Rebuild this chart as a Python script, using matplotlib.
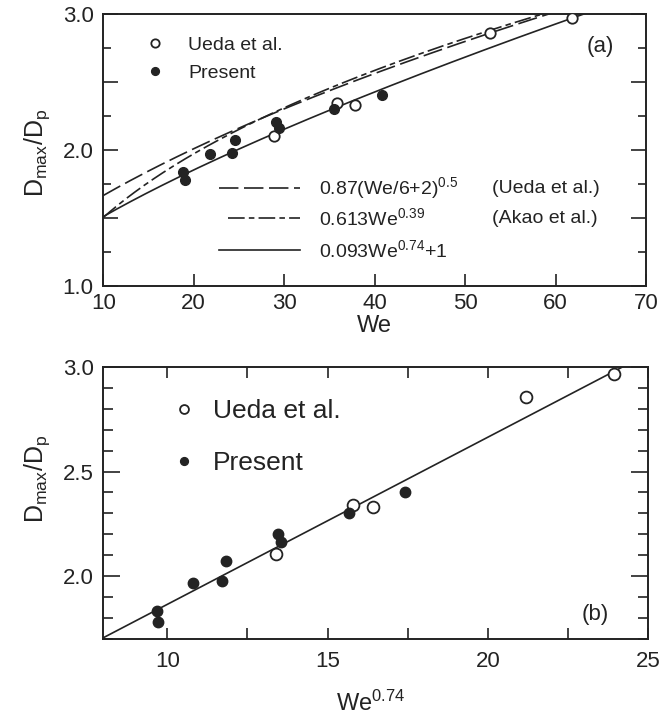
import numpy as np
import matplotlib
matplotlib.use("Agg")
import matplotlib.pyplot as plt
from matplotlib.lines import Line2D
from matplotlib.ticker import FixedLocator, MultipleLocator, FuncFormatter

INK = "#232323"

plt.rcParams["font.family"] = ["Liberation Sans", "DejaVu Sans"]
plt.rcParams["mathtext.fontset"] = "custom"
plt.rcParams["mathtext.rm"] = "Liberation Sans"
plt.rcParams["mathtext.it"] = "Liberation Sans"
plt.rcParams["lines.scale_dashes"] = False
plt.rcParams["text.color"] = INK
plt.rcParams["axes.labelcolor"] = INK
plt.rcParams["xtick.color"] = INK
plt.rcParams["ytick.color"] = INK
plt.rcParams["axes.edgecolor"] = INK

# ---- measured spreading ratios ----
# Ueda et al.
ueda_we = [61.8, 52.8, 37.8, 35.8, 28.9]
ueda_we074 = [23.95, 21.18, 16.42, 15.79, 13.39]
ueda_ratio = [2.965, 2.855, 2.330, 2.342, 2.105]
# present experiments
pres_we = [40.8, 35.5, 29.1, 29.4, 24.6, 24.2, 21.8, 18.8, 19.0]
pres_we074 = [17.41, 15.66, 13.45, 13.55, 11.84, 11.71, 10.79, 9.67, 9.72]
pres_ratio = [2.400, 2.300, 2.203, 2.163, 2.072, 1.976, 1.968, 1.835, 1.782]

# ---- correlations ----
ueda_a, ueda_div, ueda_add, ueda_p = 0.87, 6.0, 2.0, 0.5
akao_a, akao_p = 0.613, 0.39
fit_a, fit_p, fit_c = 0.093, 0.74, 1.0
we_grid = np.linspace(10, 70, 400)

# straight line on the We^0.74 axis
line_b_x = [8.0, 24.2]
line_b_y = [1.705, 3.0]

fig = plt.figure(figsize=(6.62, 7.21), dpi=100)
ax1 = fig.add_axes([0.156, 0.603, 0.820, 0.378])
ax2 = fig.add_axes([0.156, 0.114, 0.823, 0.377])

LW = 1.2
TICK_FS = 16

# ================= (a) =================
ax1.plot(we_grid, ueda_a * (we_grid / ueda_div + ueda_add) ** ueda_p,
         color=INK, lw=LW, dashes=(14, 4))
ax1.plot(we_grid, akao_a * we_grid ** akao_p,
         color=INK, lw=LW, dashes=(12, 3, 4, 3))
ax1.plot(we_grid, fit_a * we_grid ** fit_p + fit_c, color=INK, lw=LW)

h_open, = ax1.plot(ueda_we, ueda_ratio, "o", ms=7.5, mfc="white",
                   mec=INK, mew=1.3, ls="none", zorder=4)
h_fill, = ax1.plot(pres_we, pres_ratio, "o", ms=7, mfc=INK,
                   mec=INK, mew=1.0, ls="none", zorder=4)

ax1.set_xlim(10, 70)
ax1.set_ylim(1.0, 3.0)
ax1.xaxis.set_major_locator(MultipleLocator(10))
ax1.yaxis.set_major_locator(FixedLocator([1.0, 1.5, 2.0, 2.5, 3.0]))
ax1.yaxis.set_minor_locator(FixedLocator([1.25, 1.75, 2.25, 2.75]))
ax1.yaxis.set_major_formatter(
    FuncFormatter(lambda v, p: f"{v:.1f}" if abs(v - round(v)) < 1e-6 else ""))
ax1.tick_params(axis="both", which="both", direction="in", labelsize=TICK_FS,
                width=1.2)
ax1.tick_params(axis="x", which="major", length=9, top=False, pad=5)
ax1.tick_params(axis="y", which="major", length=11, right=True, pad=7)
ax1.tick_params(axis="y", which="minor", length=6, right=True)

ax1.set_xlabel("We", fontsize=17)
ax1.xaxis.set_label_coords(0.50, -0.105)
ax1.set_ylabel(r"D$_{\rm max}$/D$_{\rm p}$", fontsize=18)
ax1.yaxis.set_label_coords(-0.094, 0.49)

ax1.legend([h_open, h_fill], ["Ueda et al.", "Present"],
           loc="upper left", bbox_to_anchor=(0.078, 0.917), frameon=False,
           fontsize=14, handlelength=1.0, handletextpad=1.2,
           labelspacing=0.55, borderpad=0, borderaxespad=0,
           markerscale=0.8)

# correlation key
key_rows = [
    ((14, 4), r"0.87(We/6+2)$^{0.5}$", "(Ueda et al.)", 0.360, 0.214),
    ((12, 3, 4, 3), r"0.613We$^{0.39}$", "(Akao et al.)", 0.250, 0.230),
    (None, r"0.093We$^{0.74}$+1", None, 0.132, 0.214),
]
for dash, label, source, yk, x0 in key_rows:
    ln = Line2D([x0, 0.363], [yk, yk], transform=ax1.transAxes,
                color=INK, lw=LW)
    if dash is not None:
        ln.set_dashes(dash)
    ax1.add_line(ln)
    ax1.text(0.398, yk, label, transform=ax1.transAxes, fontsize=14,
             va="center", ha="left")
    if source:
        ax1.text(0.716, yk, source, transform=ax1.transAxes, fontsize=14,
                 va="center", ha="left")

ax1.text(0.915, 0.879, "(a)", transform=ax1.transAxes, fontsize=16,
         ha="center", va="center")

# ================= (b) =================
ax2.plot(line_b_x, line_b_y, color=INK, lw=LW)
b_open, = ax2.plot(ueda_we074, ueda_ratio, "o", ms=8.5, mfc="white",
                   mec=INK, mew=1.3, ls="none", zorder=4)
b_fill, = ax2.plot(pres_we074, pres_ratio, "o", ms=7.5, mfc=INK,
                   mec=INK, mew=1.0, ls="none", zorder=4)

ax2.set_xlim(8, 25)
ax2.set_ylim(1.7, 3.0)
ax2.xaxis.set_major_locator(FixedLocator([10, 15, 20, 25]))
ax2.xaxis.set_minor_locator(FixedLocator([12.5, 17.5, 22.5]))
ax2.yaxis.set_major_locator(FixedLocator([2.0, 2.5, 3.0]))
ax2.yaxis.set_minor_locator(MultipleLocator(0.1))
ax2.yaxis.set_major_formatter(FuncFormatter(lambda v, p: f"{v:.1f}"))
ax2.tick_params(axis="both", which="both", direction="in", labelsize=TICK_FS,
                width=1.2, top=True, right=True)
ax2.tick_params(axis="x", which="both", length=8, pad=9)
ax2.tick_params(axis="y", which="major", length=12, pad=7)
ax2.tick_params(axis="y", which="minor", length=7)

ax2.set_xlabel(r"We$^{0.74}$", fontsize=17)
ax2.xaxis.set_label_coords(0.49, -0.19)
ax2.set_ylabel(r"D$_{\rm max}$/D$_{\rm p}$", fontsize=18)
ax2.yaxis.set_label_coords(-0.094, 0.59)

ax2.legend([b_open, b_fill], ["Ueda et al.", "Present"],
           loc="upper left", bbox_to_anchor=(0.128, 0.882), frameon=False,
           fontsize=19, handlelength=0.8, handletextpad=0.72,
           labelspacing=1.05, borderpad=0, borderaxespad=0,
           markerscale=0.75)

ax2.text(0.903, 0.088, "(b)", transform=ax2.transAxes, fontsize=16,
         ha="center", va="center")

for ax in (ax1, ax2):
    for s in ax.spines.values():
        s.set_linewidth(1.4)

fig.savefig("out.png", dpi=100, facecolor="white")
